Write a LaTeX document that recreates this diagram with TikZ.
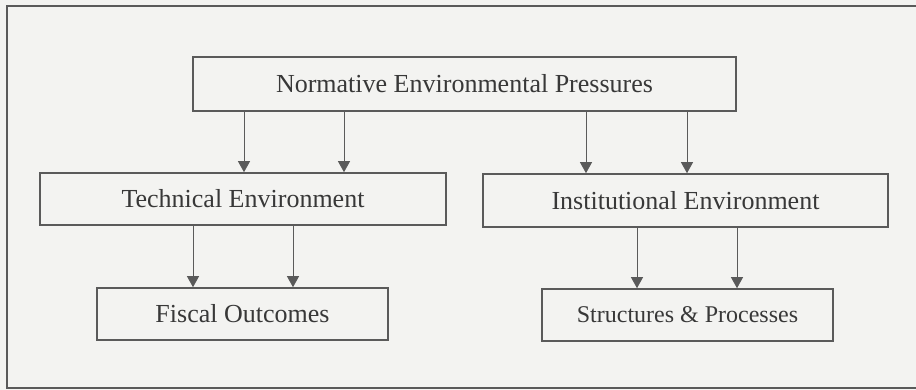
\documentclass[tikz,border=0pt]{standalone}
\usepackage{fontspec}
\setmainfont{Liberation Serif}
\usetikzlibrary{arrows.meta}
\definecolor{bgc}{HTML}{F3F3F1}
\definecolor{linec}{HTML}{5A5A5A}
\definecolor{textc}{HTML}{383838}
\begin{document}
\begin{tikzpicture}[x=1pt,y=-1pt,
  box/.style={draw=linec,line width=1.6pt,inner sep=0pt,text=textc,
    font=\fontsize{26}{29}\selectfont,anchor=center},
  arr/.style={draw=linec,line width=0.8pt,-{Triangle[width=12pt,length=11pt]}}]
\fill[bgc] (0,0) rectangle (916,390);
\useasboundingbox (0,0) rectangle (916,390);
% outer frame (right side lies beyond the edge)
\draw[linec,line width=1.6pt] (925,6) -- (7,6) -- (7,388) -- (925,388);
% boxes
\node[box,minimum width=543pt,minimum height=54pt] (top) at (464.5,84) {Normative Environmental Pressures};
\node[box,minimum width=406pt,minimum height=52pt] (tech) at (243,199) {Technical Environment};
\node[box,minimum width=405pt,minimum height=53pt] (inst) at (685.5,200.5) {Institutional Environment};
\node[box,minimum width=291pt,minimum height=52pt] (fisc) at (242.5,314) {Fiscal Outcomes};
\node[box,minimum width=291pt,minimum height=52pt,font=\fontsize{24}{27}\selectfont] (struc) at (687.5,315) {Structures \& Processes};
% connector columns
\coordinate (c1) at (244,0);
\coordinate (c2) at (344,0);
\coordinate (c3) at (586,0);
\coordinate (c4) at (687,0);
\coordinate (c5) at (193,0);
\coordinate (c6) at (293,0);
\coordinate (c7) at (637,0);
\coordinate (c8) at (737,0);
\draw[arr] (top.south -| c1) -- (tech.north -| c1);
\draw[arr] (top.south -| c2) -- (tech.north -| c2);
\draw[arr] (top.south -| c3) -- (inst.north -| c3);
\draw[arr] (top.south -| c4) -- (inst.north -| c4);
\draw[arr] (tech.south -| c5) -- (fisc.north -| c5);
\draw[arr] (tech.south -| c6) -- (fisc.north -| c6);
\draw[arr] (inst.south -| c7) -- (struc.north -| c7);
\draw[arr] (inst.south -| c8) -- (struc.north -| c8);
\end{tikzpicture}
\end{document}
